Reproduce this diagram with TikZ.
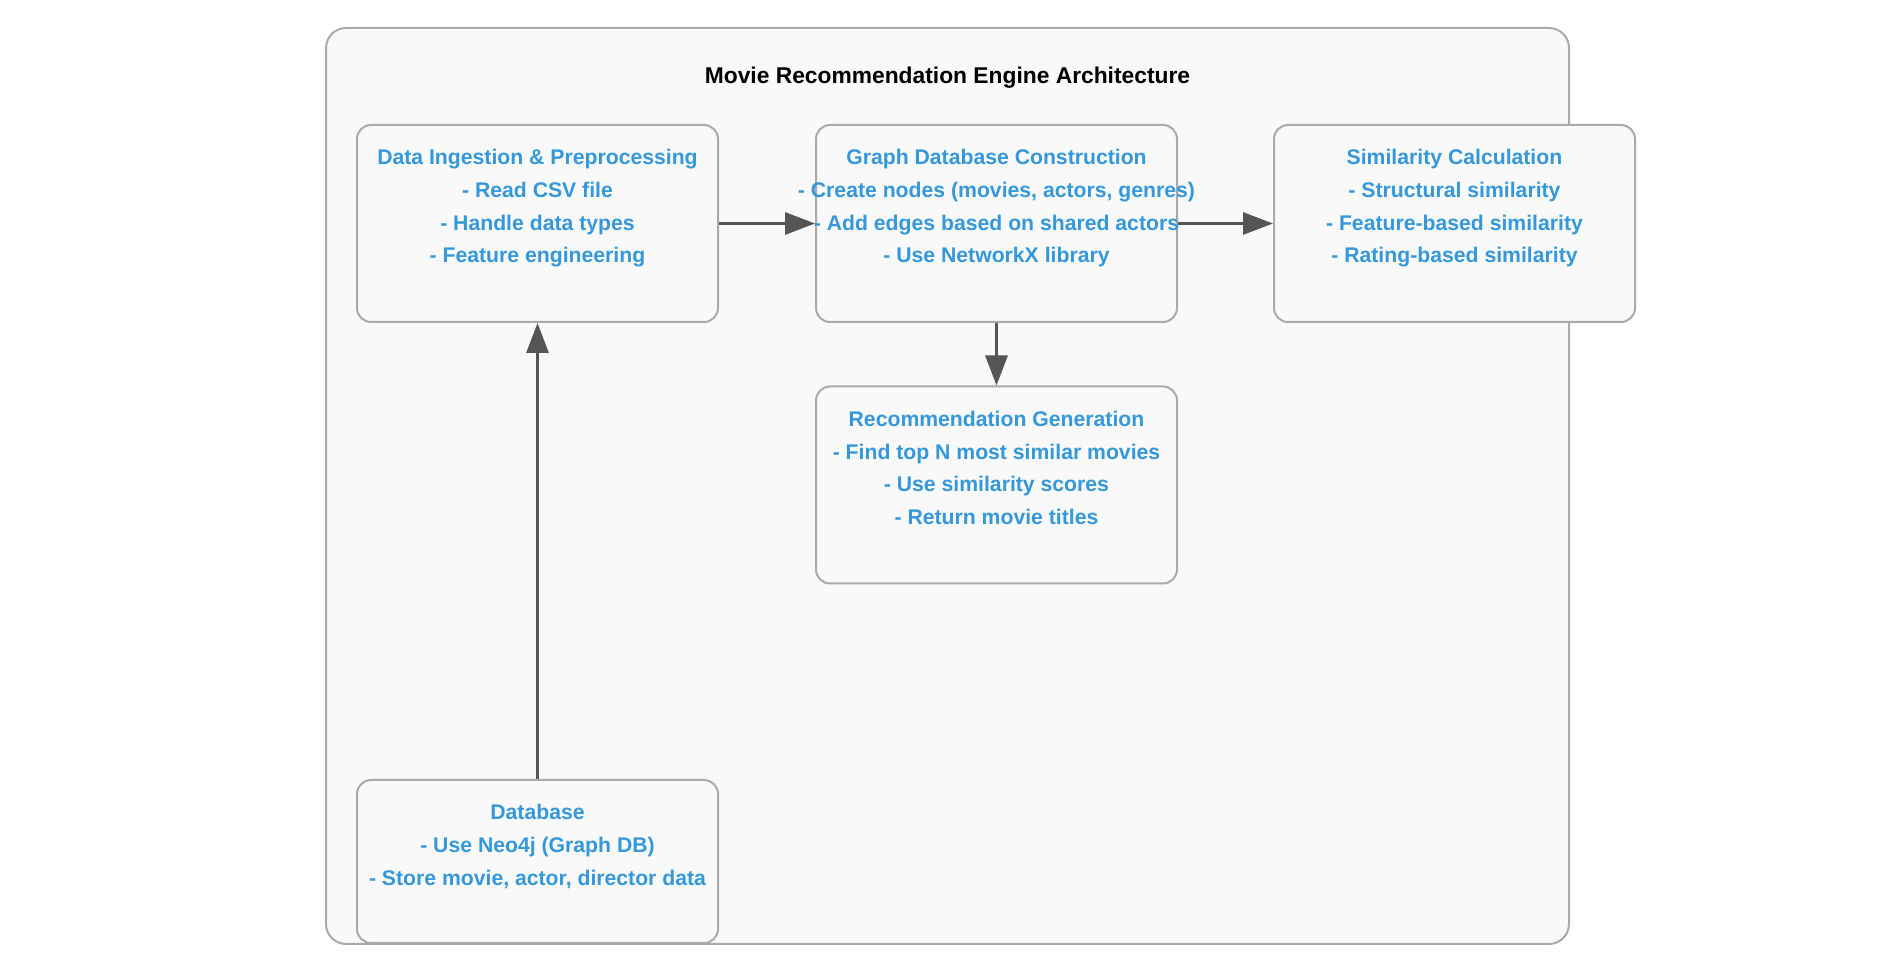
\documentclass[tikz,border=0pt]{standalone}
\usepackage{fontspec}
\setmainfont{Liberation Sans}
\usetikzlibrary{positioning,arrows.meta}
\definecolor{framegray}{HTML}{AAAAAA}
\definecolor{boxfill}{HTML}{F9F9F9}
\definecolor{txtblue}{HTML}{3498DB}
\definecolor{arrowgray}{HTML}{555555}
\begin{document}
\begin{tikzpicture}[x=0.5pt, y=-0.5pt,
  module/.style={draw=framegray, line width=1pt, fill=boxfill, rounded corners=7pt, minimum width=180.5pt, minimum height=98.5pt, inner sep=0pt},
  modtext/.style={anchor=north, inner sep=0pt, align=center, text=txtblue, font=\fontsize{10.6}{16.3}\selectfont\bfseries},
  flow/.style={-{Triangle[length=15pt,width=11pt]}, draw=arrowgray, line width=1.5pt}]

\useasboundingbox (0,0) rectangle (1892,961);
\draw[draw=framegray, line width=1pt, fill=boxfill, rounded corners=10pt] (326,28) rectangle (1569,944);
\node[font=\fontsize{11.4}{14}\selectfont\bfseries] (title) at (947.5,77.5) {Movie Recommendation Engine Architecture};

\node[module] (ingest) at (537.5,223.5) {};
\node[module] (graph) at (996.5,223.5) {};
\node[module] (simil) at (1454.5,223.5) {};
\node[module] (recom) at (996.5,485) {};
\node[module, minimum height=81.5pt] (db) at (537.5,861.5) {};

\draw[flow] (ingest) -- (graph);
\draw[flow] (graph) -- (simil);
\draw[flow] (graph) -- (recom);
\draw[flow] (db) -- (ingest);

\node[modtext, below=12.6pt of ingest.north] (ingesttxt) {Data Ingestion \& Preprocessing\\- Read CSV file\\- Handle data types\\- Feature engineering};
\node[modtext, below=12.6pt of graph.north] (graphtxt) {Graph Database Construction\\- Create nodes (movies, actors, genres)\\- Add edges based on shared actors\\- Use NetworkX library};
\node[modtext, below=12.6pt of simil.north] (similtxt) {Similarity Calculation\\- Structural similarity\\- Feature-based similarity\\- Rating-based similarity};
\node[modtext, below=12.6pt of recom.north] (recomtxt) {Recommendation Generation\\- Find top N most similar movies\\- Use similarity scores\\- Return movie titles};
\node[modtext, below=12.6pt of db.north] (dbtxt) {Database\\- Use Neo4j (Graph DB)\\- Store movie, actor, director data};

\end{tikzpicture}
\end{document}
